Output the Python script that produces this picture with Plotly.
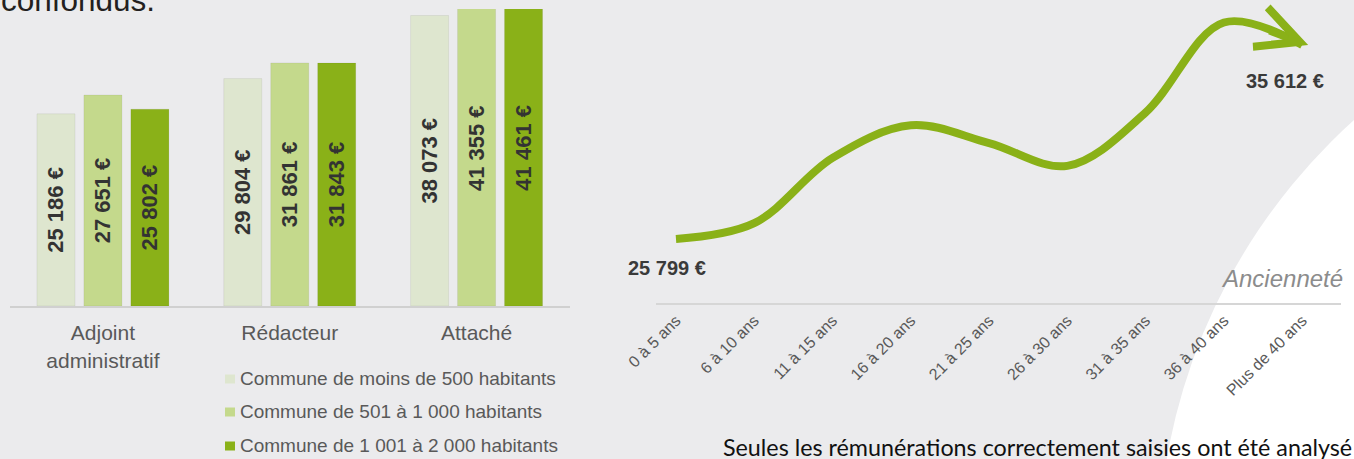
import plotly.graph_objects as go

W, H = 1354, 459

# ---------------- Data ----------------
grades = ["Adjoint<br>administratif", "Rédacteur", "Attaché"]
series_names = [
    "Commune de moins de 500 habitants",
    "Commune de 501 à 1 000 habitants",
    "Commune de 1 001 à 2 000 habitants",
]
moins_500 = [25186, 29804, 38073]
de_501_a_1000 = [27651, 31861, 41355]
de_1001_a_2000 = [25802, 31843, 41461]

anciennete = ["0 à 5 ans", "6 à 10 ans", "11 à 15 ans", "16 à 20 ans", "21 à 25 ans",
              "26 à 30 ans", "31 à 35 ans", "36 à 40 ans", "Plus de 40 ans"]
remuneration = [25799, 26600, 29900, 31550, 30650, 29500, 32200, 36750, 35612]

bar_colors = ["#DEE6CF", "#C4D98C", "#8AB118"]
line_color = "#8AB118"
text_gray = "#595959"


def fmt(v):
    return f"{v:,}".replace(",", " ") + " €"


def px(x):
    return x / W


def py(y):
    return 1 - y / H


fig = go.Figure()

# ---------------- Left: grouped bars ----------------
for name, vals, col in zip(series_names, [moins_500, de_501_a_1000, de_1001_a_2000], bar_colors):
    fig.add_trace(go.Bar(
        x=grades, y=vals, name=name,
        marker=dict(color=col, line=dict(color="rgba(0,0,0,0.06)", width=1)),
        text=[fmt(v) for v in vals], textposition="inside", insidetextanchor="middle",
        textangle=-90, constraintext="none",
        textfont=dict(family="Liberation Sans, Arial, sans-serif", size=22, color="#333333", weight="bold"),
        showlegend=False, xaxis="x", yaxis="y", hoverinfo="skip",
    ))

# ---------------- Right: seniority curve ----------------
fig.add_trace(go.Scatter(
    x=anciennete, y=remuneration, mode="lines",
    line=dict(color=line_color, width=8, shape="spline", smoothing=1.0),
    xaxis="x2", yaxis="y2", showlegend=False, cliponaxis=False, hoverinfo="skip",
))

annotations = []
# arrow head at the end of the curve
annotations.append(dict(
    x=anciennete[-1], y=remuneration[-1], xref="x2", yref="y2", text="",
    showarrow=True, ax=-40, ay=-15, arrowhead=5, arrowsize=1.03, arrowwidth=8,
    arrowcolor=line_color, xshift=6,
))
# first / last value labels
annotations.append(dict(
    x=anciennete[0], y=remuneration[0], xref="x2", yref="y2", text=fmt(remuneration[0]),
    showarrow=False, xshift=-9, yshift=-29,
    font=dict(family="Liberation Sans, Arial", size=20, color="#3A3A3A", weight="bold"),
))
annotations.append(dict(
    x=anciennete[-1], y=remuneration[-1], xref="x2", yref="y2", text=fmt(remuneration[-1]),
    showarrow=False, xshift=-17, yshift=-36,
    font=dict(family="Liberation Sans, Arial", size=20, color="#3A3A3A", weight="bold"),
))
annotations.append(dict(
    x=px(1345), y=py(278), xref="paper", yref="paper", xanchor="right", yanchor="middle",
    text="<i>Ancienneté</i>", showarrow=False,
    font=dict(family="Liberation Sans, Arial", size=24, color="#8C8C8C"),
))
# surrounding document text (cut by the frame as in the source page)
annotations.append(dict(
    x=0, y=py(0), xref="paper", yref="paper", xanchor="left", yanchor="middle",
    text="confondus.", showarrow=False, borderpad=0,
    font=dict(family="Liberation Sans, Arial", size=31.5, color="#231F20"),
))
annotations.append(dict(
    x=px(721), y=py(447), xref="paper", yref="paper", xanchor="left", yanchor="middle",
    text="Seules les rémunérations correctement saisies ont été analysé", showarrow=False,
    font=dict(family="Lato, Open Sans, sans-serif", size=23.3, color="#111111"),
))

# custom legend
shapes = []
legend_rows = [378.5, 411.5, 445.5]
for name, col, yc in zip(series_names, bar_colors, legend_rows):
    shapes.append(dict(type="rect", xref="paper", yref="paper",
                       x0=px(225), x1=px(235), y0=py(yc - 4), y1=py(yc + 5),
                       fillcolor=col, line=dict(width=0), layer="above"))
    annotations.append(dict(
        x=px(238), y=py(yc), xref="paper", yref="paper", xanchor="left", yanchor="middle",
        text=name, showarrow=False,
        font=dict(family="Liberation Sans, Arial", size=19, color=text_gray),
    ))

# white curved background area at lower right
cx, cy, r = 1750, 560, 592
shapes.append(dict(type="circle", xref="paper", yref="paper",
                   x0=px(cx - r), x1=px(cx + r), y0=py(cy + r), y1=py(cy - r),
                   fillcolor="white", line=dict(width=0), layer="below"))

fig.update_layout(
    width=W, height=H, margin=dict(l=0, r=0, t=0, b=0, pad=0, autoexpand=False),
    paper_bgcolor="#EBEBED", plot_bgcolor="rgba(0,0,0,0)",
    barmode="group", bargap=0.246, bargroupgap=0.19,
    font=dict(family="Liberation Sans, Arial", color=text_gray),
    xaxis=dict(domain=[px(9.5), px(570)], anchor="y", showline=True, linecolor="#D0D0D0",
               linewidth=2, showgrid=False, zeroline=False, ticks="", automargin=False,
               tickfont=dict(size=21, color=text_gray), ticklabelstandoff=7, fixedrange=True),
    yaxis=dict(domain=[py(306), py(9)], anchor="x", range=[0, 38925], visible=False,
               automargin=False, fixedrange=True),
    xaxis2=dict(domain=[px(656.4), px(1341.3)], anchor="y2", type="category", range=[-0.25, 8.5],
                showline=True, linecolor="#D6D6D6", linewidth=2, showgrid=False, zeroline=False,
                ticks="", tickangle=-45, tickfont=dict(size=16, color=text_gray),
                automargin=False, fixedrange=True),
    yaxis2=dict(domain=[py(303), 1], anchor="x2", range=[22562, 37888], visible=False,
                automargin=False, fixedrange=True),
    annotations=annotations, shapes=shapes, showlegend=False,
)

fig.write_html("out.html")
